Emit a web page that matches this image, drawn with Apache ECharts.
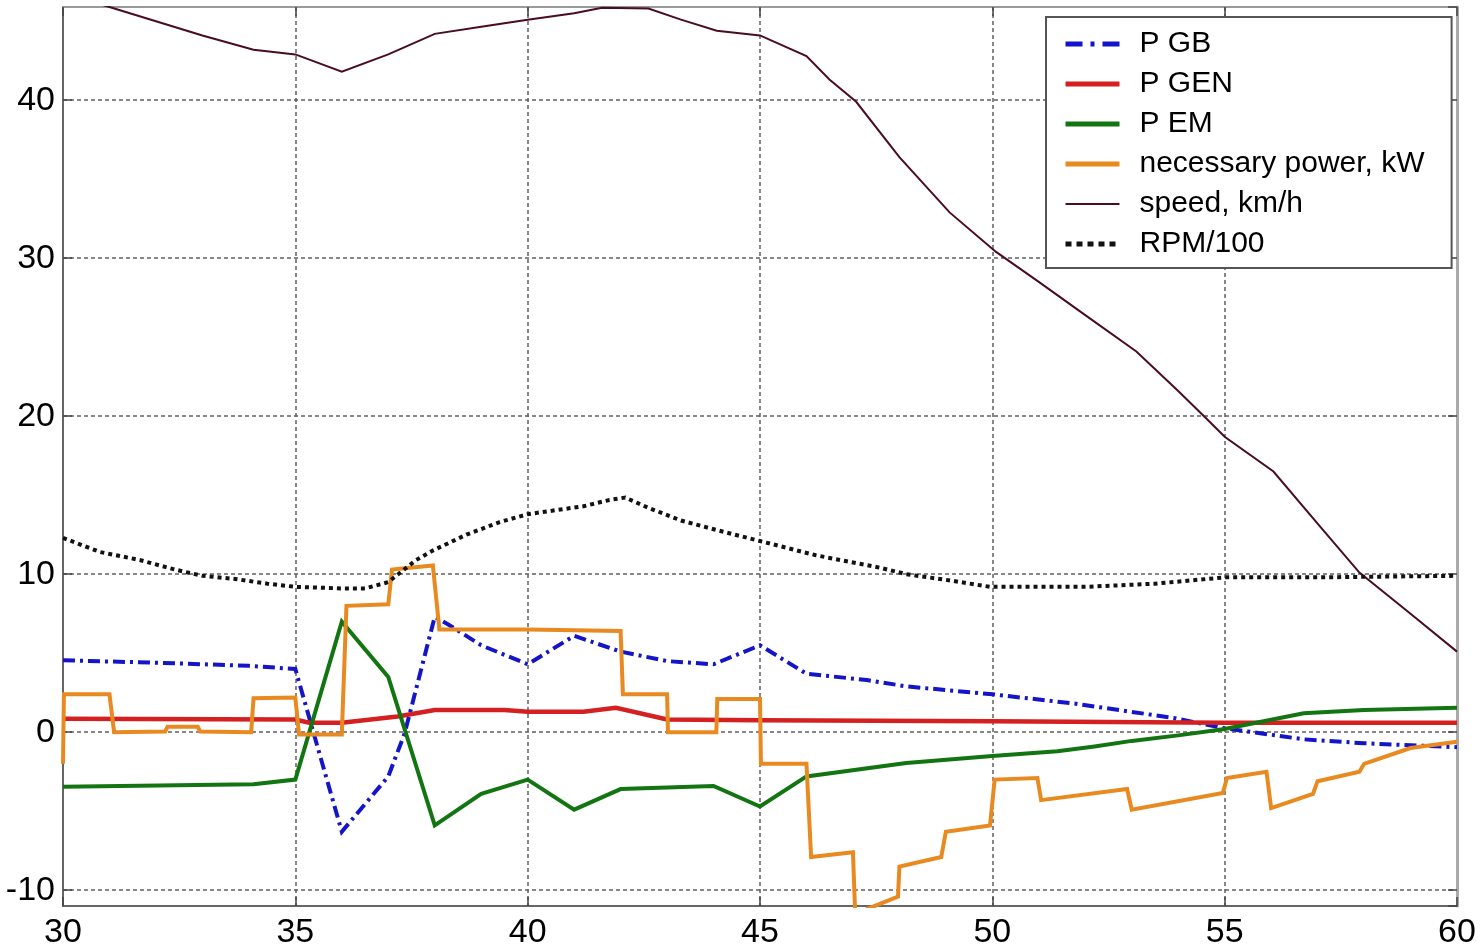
<!DOCTYPE html>
<html>
<head>
<meta charset="utf-8">
<script src="https://cdn.jsdelivr.net/npm/echarts@6/dist/echarts.min.js"></script>
<style>
html,body{margin:0;padding:0;background:#fff;}
#chart{width:1482px;height:950px;}
</style>
</head>
<body>
<div id="chart"></div>
<script>
// ---- axis ticks ----
const xTicks = [30, 35, 40, 45, 50, 55, 60];
const yTicks = [-10, 0, 10, 20, 30, 40];
const yMin = -11;
const yMax = 45.9;

// ---- series values [time, value] ----
const pGB = [
  [30, 4.55], [32, 4.4], [34, 4.2], [35, 4.0], [36, -6.3], [37, -2.8], [37.35, -0.1],
  [38, 7.3], [38.3, 6.8], [39, 5.5], [40, 4.3], [41, 6.1], [42, 5.1], [43, 4.5],
  [44, 4.3], [45, 5.5], [46, 3.7], [47.3, 3.3], [48.15, 2.9], [50, 2.4], [51.8, 1.8],
  [53.9, 0.9], [55, 0.25], [56.7, -0.45], [58, -0.7], [60, -0.95]
];
const pGEN = [
  [30, 0.85], [35, 0.8], [35.3, 0.6], [36, 0.6], [37.2, 1.0], [38, 1.4], [39.5, 1.4],
  [40, 1.3], [41.2, 1.3], [41.9, 1.55], [43, 0.8], [45, 0.75], [50, 0.7], [55, 0.6], [60, 0.6]
];
const pEM = [
  [30, -3.45], [34.1, -3.3], [35, -3.0], [36, 7.0], [37, 3.5], [38, -5.9], [39, -3.9],
  [40, -3.0], [41, -4.9], [42, -3.6], [44, -3.4], [45, -4.7], [46, -2.8], [48.15, -1.95],
  [50, -1.5], [51.4, -1.2], [52.2, -0.9], [53, -0.55], [54, -0.2], [55, 0.2], [56.7, 1.2],
  [58, 1.4], [60, 1.55]
];
const needPower = [
  [30, -2.0], [30.02, 2.4], [31.0, 2.4], [31.1, 0.0], [32.2, 0.05], [32.25, 0.35], [32.9, 0.35],
  [32.95, 0.05], [34.05, 0.0], [34.1, 2.15], [35.0, 2.2], [35.08, -0.15], [36.0, -0.15],
  [36.1, 8.0], [37.0, 8.1], [37.08, 10.3], [37.96, 10.55], [38.1, 6.5], [40, 6.5], [42.0, 6.4],
  [42.05, 2.4], [43.0, 2.4], [43.02, 0.0], [44.06, 0.0], [44.08, 2.1], [45.0, 2.1],
  [45.02, -2.0], [46.0, -2.0], [46.1, -7.9], [47.0, -7.6], [47.05, -11.6], [47.3, -11.2],
  [47.97, -10.4], [48.0, -8.5], [48.9, -7.9], [49.0, -6.3], [49.95, -5.9], [50.05, -3.0],
  [50.97, -2.9], [51.05, -4.3], [52.9, -3.6], [53.0, -4.9], [54.96, -3.85], [55.05, -2.9],
  [55.9, -2.5], [56.0, -4.8], [56.9, -3.9], [57.0, -3.1], [57.9, -2.5], [58.0, -2.0],
  [59.0, -1.0], [60, -0.6]
];
const speed = [
  [30, 46.8], [31, 45.9], [32, 45.0], [33, 44.1], [34.1, 43.2], [35, 42.9], [36, 41.8],
  [37, 42.9], [38, 44.2], [39, 44.65], [40, 45.1], [41, 45.5], [41.6, 45.85], [42.6, 45.8],
  [43.3, 45.1], [44.07, 44.4], [45, 44.1], [46, 42.8], [46.5, 41.3], [47.07, 39.9],
  [48, 36.4], [49.08, 32.9], [50.08, 30.4], [51, 28.5], [52, 26.4], [53.1, 24.1], [54, 21.6],
  [54.66, 19.7], [55, 18.7], [56.05, 16.5], [57, 13.2], [57.9, 10.1], [59, 7.5], [60, 5.1]
];
const rpm100 = [
  [30, 12.3], [30.8, 11.4], [31.65, 10.9], [32.4, 10.3], [33, 9.9], [33.7, 9.7], [34.4, 9.4],
  [35, 9.2], [36, 9.1], [36.5, 9.1], [37, 9.5], [37.6, 10.9], [37.96, 11.5], [38.68, 12.5],
  [39.4, 13.3], [40, 13.8], [41.2, 14.3], [41.76, 14.7], [42.1, 14.85], [42.6, 14.2],
  [43.3, 13.4], [44.06, 12.8], [45, 12.1], [46.2, 11.2], [47.6, 10.4], [48.15, 10.0],
  [49.1, 9.6], [49.95, 9.2], [51, 9.2], [52, 9.2], [53.5, 9.4], [55, 9.8], [57, 9.8], [60, 9.9]
];

const names = ['P GB', 'P GEN', 'P EM', 'necessary power, kW', 'speed, km/h', 'RPM/100'];
const colors = ['#1414c8', '#d42020', '#127512', '#e98a20', '#4a0c22', '#111111'];

const labelFont = '"Liberation Sans", Arial, sans-serif';
const legendFont = '"Liberation Sans", Arial, sans-serif';

const gridLine = { show: true, lineStyle: { color: '#606060', width: 1.5, type: [4, 3] } };

function mkSeries(name, data, color, width, type) {
  return {
    name: name, type: 'line', data: data, symbol: 'none', showSymbol: false, smooth: false,
    clip: true, animation: false,
    lineStyle: { color: color, width: width, type: type, join: 'miter' },
    itemStyle: { color: color },
    emphasis: { disabled: true }
  };
}

const legendStyles = [
  { width: 5, type: [17, 8, 4, 8] },
  { width: 5, type: 'solid' },
  { width: 5, type: 'solid' },
  { width: 5, type: 'solid' },
  { width: 2, type: 'solid' },
  { width: 5, type: [6, 5] }
];

const chart = echarts.init(document.getElementById('chart'), null, { renderer: 'canvas' });
chart.setOption({
  backgroundColor: '#ffffff',
  animation: false,
  grid: { left: 63, right: 25, top: 7, bottom: 39, containLabel: false },
  legend: {
    orient: 'vertical',
    left: 1046, top: 17,
    data: names.map((n, i) => ({
      name: n,
      itemStyle: { opacity: 0 },
      lineStyle: { color: colors[i], width: legendStyles[i].width, type: legendStyles[i].type }
    })),
    itemWidth: 54, itemHeight: 14, itemGap: 0,
    padding: [7, 27, 4, 17],
    backgroundColor: '#ffffff',
    borderColor: '#555555', borderWidth: 2,
    itemStyle: { opacity: 0 },
    textStyle: { fontFamily: legendFont, fontSize: 30, color: '#000', lineHeight: 40, padding: [0, 0, 0, 15] },
    selectedMode: false
  },
  xAxis: [{
    type: 'value', position: 'bottom',
    min: xTicks[0], max: xTicks[xTicks.length - 1], interval: xTicks[1] - xTicks[0],
    axisLine: { show: true, onZero: false, lineStyle: { color: '#666', width: 2 } },
    axisTick: { show: true, inside: true, length: 9, lineStyle: { color: '#444', width: 1.5 } },
    axisLabel: { show: true, margin: 10, fontFamily: labelFont, fontSize: 34, color: '#000',
      formatter: v => xTicks.indexOf(v) >= 0 ? String(v) : '' },
    splitLine: gridLine
  }, {
    type: 'value', position: 'top',
    min: xTicks[0], max: xTicks[xTicks.length - 1], interval: xTicks[1] - xTicks[0],
    axisLine: { show: true, onZero: false, lineStyle: { color: '#999', width: 2 } },
    axisTick: { show: true, inside: true, length: 9, lineStyle: { color: '#444', width: 1.5 } },
    axisLabel: { show: false },
    splitLine: { show: false }
  }],
  yAxis: [{
    type: 'value', position: 'left',
    min: yMin, max: yMax, splitNumber: 6,
    axisLine: { show: true, onZero: false, lineStyle: { color: '#666', width: 2 } },
    axisTick: { show: true, inside: true, length: 9, lineStyle: { color: '#444', width: 1.5 } },
    axisLabel: { show: true, margin: 8, fontFamily: labelFont, fontSize: 34, color: '#000',
      showMinLabel: false, showMaxLabel: false,
      formatter: v => yTicks.indexOf(v) >= 0 ? String(v) : '' },
    splitLine: gridLine
  }, {
    type: 'value', position: 'right',
    min: yMin, max: yMax, splitNumber: 6,
    axisLine: { show: true, onZero: false, lineStyle: { color: '#aaa', width: 3 } },
    axisTick: { show: true, inside: true, length: 9, lineStyle: { color: '#444', width: 1.5 } },
    axisLabel: { show: false },
    splitLine: { show: false }
  }],
  series: [
    mkSeries(names[0], pGB, colors[0], 4, [12, 5, 3, 5]),
    mkSeries(names[1], pGEN, colors[1], 4.5, 'solid'),
    mkSeries(names[2], pEM, colors[2], 4, 'solid'),
    mkSeries(names[3], needPower, colors[3], 4, 'solid'),
    mkSeries(names[4], speed, colors[4], 2, 'solid'),
    mkSeries(names[5], rpm100, colors[5], 4, [4, 4])
  ]
});
</script>
</body>
</html>
